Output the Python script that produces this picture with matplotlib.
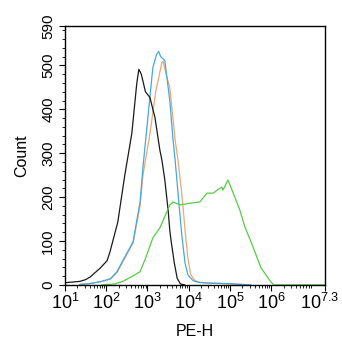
import matplotlib
matplotlib.use("Agg")
import matplotlib.pyplot as plt
from matplotlib.ticker import FixedLocator, LogLocator, NullFormatter, MultipleLocator

plt.rcParams['font.family'] = ['Liberation Sans', 'DejaVu Sans']
plt.rcParams['mathtext.fontset'] = 'custom'
plt.rcParams['mathtext.rm'] = 'Liberation Sans'
plt.rcParams['mathtext.it'] = 'Liberation Sans'

# histogram outlines, x given as log10(PE-H), y as counts
black_lx = [1.0, 1.12, 1.36, 1.5, 1.61, 1.85, 2.02, 2.09, 2.28, 2.45, 2.62, 2.74, 2.79,
            2.85, 2.95, 3.06, 3.13, 3.18, 3.30, 3.35, 3.42, 3.50, 3.54, 3.57, 3.65, 3.72, 3.80, 3.90]
black_y = [5, 6, 8, 12, 18, 38, 55, 75, 143, 250, 345, 459, 491,
           480, 440, 427, 400, 382, 307, 284, 239, 170, 125, 102, 50, 15, 2, 0]

blue_lx = [1.36, 1.6, 1.85, 2.1, 2.26, 2.4, 2.65, 2.82, 2.89, 3.01, 3.13, 3.22, 3.27, 3.32,
           3.42, 3.54, 3.62, 3.67, 3.74, 3.83, 3.91, 3.98, 4.1, 4.22, 4.5, 5.0, 5.3, 5.5]
blue_y = [1, 3, 7, 14, 30, 55, 98, 189, 268, 382, 495, 525, 532, 520,
          511, 420, 330, 284, 209, 115, 50, 23, 10, 6, 4, 3, 1, 0]

orange_lx = [1.36, 1.6, 1.85, 2.1, 2.26, 2.4, 2.65, 2.82, 2.89, 3.06, 3.20, 3.35, 3.38, 3.45,
             3.54, 3.67, 3.74, 3.83, 3.91, 3.98, 4.05, 4.15, 4.3, 4.8, 5.3, 5.5]
orange_y = [1, 3, 7, 13, 28, 52, 95, 180, 250, 345, 440, 507, 509, 480,
            450, 330, 284, 209, 125, 60, 23, 10, 5, 3, 1, 0]

green_lx = [1.9, 2.2, 2.4, 2.6, 2.82, 2.95, 3.13, 3.30, 3.54, 3.59, 3.62, 3.79, 4.03, 4.27,
            4.44, 4.59, 4.80, 4.83, 4.95, 5.07, 5.24, 5.36, 5.51, 5.75, 5.99, 6.06, 7.3]
green_y = [0, 2, 8, 18, 30, 60, 107, 130, 182, 186, 189, 182, 186, 189,
           209, 209, 223, 216, 239, 211, 170, 132, 98, 39, 7, 0, 0]

series = [
    (black_lx, black_y, '#1a1a1a'),
    (blue_lx, blue_y, '#45a8d8'),
    (orange_lx, orange_y, '#e8a878'),
    (green_lx, green_y, '#55cc44'),
]

y_ticks = [0, 100, 200, 300, 400, 500, 590]
x_ticks = [1, 2, 3, 4, 5, 6, 7.3]
x_labels = ['$10^{1}$', '$10^{2}$', '$10^{3}$', '$10^{4}$', '$10^{5}$', '$10^{6}$', '$10^{7.3}$']

fig = plt.figure(figsize=(3.42, 3.5), dpi=100)
ax = fig.add_axes([0.19, 0.186, 0.76, 0.74])

# draw orange first so blue sits on top like in the original
for lx, y, c in [series[2], series[1], series[0], series[3]]:
    ax.plot([10 ** v for v in lx], y, color=c, lw=0.9)

ax.set_xscale('log')
ax.set_xlim(10 ** 1, 10 ** 7.3)
ax.set_ylim(0, 590)

ax.xaxis.set_major_locator(FixedLocator([10 ** v for v in x_ticks]))
# the last label is drawn separately, slightly left-shifted, so it fits
ax.set_xticklabels(x_labels[:-1] + [''], fontsize=13)
ax.annotate(x_labels[-1], xy=(10 ** x_ticks[-1], 0), xycoords=('data', 'axes fraction'),
            xytext=(10.5, -6), textcoords='offset points', ha='right', va='top',
            fontsize=13)
ax.xaxis.set_minor_locator(LogLocator(base=10, subs=range(2, 10), numticks=20))
ax.xaxis.set_minor_formatter(NullFormatter())

ax.set_yticks(y_ticks)
ax.set_yticklabels([str(v) for v in y_ticks], fontsize=11, rotation=90, va='center')
ax.yaxis.set_minor_locator(MultipleLocator(20))

ax.tick_params(axis='both', which='major', length=4, width=0.8, direction='out', pad=3)
ax.tick_params(axis='both', which='minor', length=2, width=0.6, direction='out')
ax.tick_params(axis='x', pad=2)

for s in ax.spines.values():
    s.set_linewidth(1.0)

ax.set_xlabel('PE-H', fontsize=11.5, labelpad=8)
ax.set_ylabel('Count', fontsize=11.5, labelpad=9)

fig.savefig('out.png', dpi=100)
